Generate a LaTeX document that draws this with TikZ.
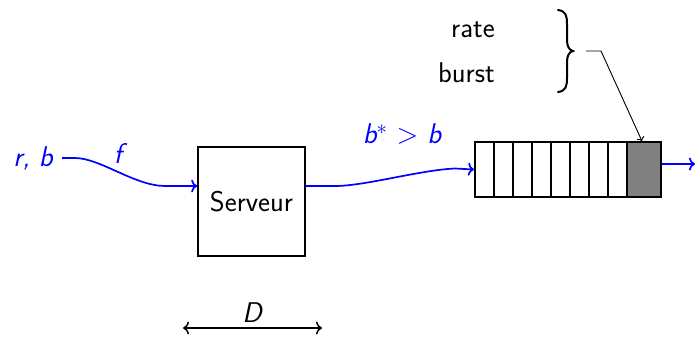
\documentclass[tikz,border=0pt]{standalone}
\usepackage{fontspec}
\usetikzlibrary{arrows.meta}
\begin{document}
\begin{tikzpicture}[x=1pt,y=-1pt,
  font=\fontsize{28.5}{34}\selectfont\sffamily,
  flow/.style={draw=blue,line width=1.7pt,-{To[length=6pt,width=13pt]}},
  lbl/.style={text=blue,font=\fontsize{28.5}{34}\selectfont\sffamily\itshape,inner sep=0pt},
  cell/.style={draw,line width=1.6pt,minimum height=55pt,minimum width=19pt,inner sep=0pt,anchor=west},
  plain/.style={inner sep=0pt}]
\useasboundingbox (0,0) rectangle (695,338);
% input
\node[lbl,anchor=east] (rb) at (53,158) {r,\kern9pt b};
\node[lbl] (f) at (118,153) {f};
\node[draw,line width=1.6pt,minimum width=107pt,minimum height=109pt,inner sep=0pt] (serv) at (251.5,201.5) {Serveur};
\coordinate (sin) at (serv.west |- 0,186);
\coordinate (sout) at (serv.east |- 0,186);
\draw[flow] (62,158) -- (75,158) .. controls (100,158) and (135,186) .. (165,186) -- (sin);
% queue
\foreach \i in {0,...,7} {
  \node[cell] (c\i) at ({474+19*\i},169.5) {};
}
\node[cell,fill=gray,minimum width=34pt] (cg) at (626,169.5) {};
\node[lbl] (bstar) at (402,134) {b$^{*}$\kern9pt{\upshape >}\kern9pt b};
\draw[flow] (sout) -- (335,186) .. controls (365,186) and (420,170) .. (455,168.5) -- (c0.west);
\coordinate (qout) at (695,164);
\draw[flow] (cg.east |- qout) -- (qout);
% rate / burst
\node[plain,anchor=east] (rate) at (495,30) {rate};
\node[plain,anchor=east] (burst) at (495,73) {burst};
\draw[line width=2pt,line cap=round] (558,10) .. controls (566,11) and (567,16) .. (567,24) -- (567,40)
  .. controls (567,46) and (569,50) .. (573,51) .. controls (569,52) and (567,56) .. (567,62)
  -- (567,78) .. controls (567,86) and (566,91) .. (558,92);
\coordinate (k1) at (586,51);
\coordinate (k2) at (601,51);
\draw[line width=0.9pt,-{To[length=4pt,width=8pt]}] (k1) -- (k2) -- (cg.north -| 642,0);
% D
\node[lbl,text=black] (D) at (252,313) {D};
\coordinate (d1) at (183,328);
\coordinate (d2) at (322,328);
\draw[line width=1.5pt,{To[length=6pt,width=13pt]}-{To[length=6pt,width=13pt]}] (d1) -- (d2);
\end{tikzpicture}
\end{document}
